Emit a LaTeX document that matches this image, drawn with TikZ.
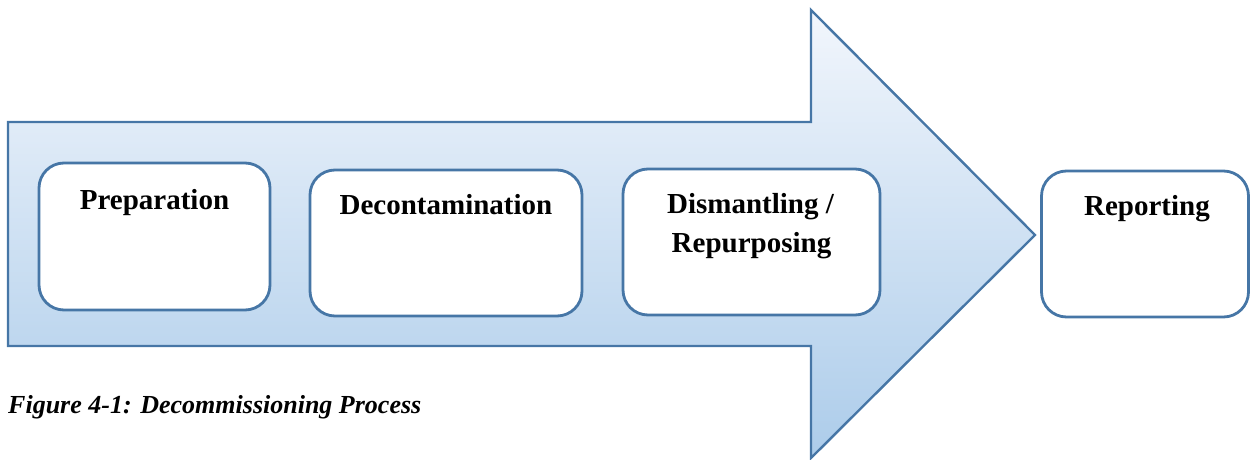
\documentclass[tikz,border=0pt]{standalone}
\usepackage{fontspec}
\setmainfont{Liberation Serif}
\definecolor{edgeblue}{RGB}{70,118,166}
\definecolor{shadetop}{RGB}{242,246,252}
\definecolor{shadebot}{RGB}{172,204,234}
\tikzset{
  stepbox/.style={draw=edgeblue, line width=2.8pt, fill=white, rounded corners=25pt, inner sep=0pt},
  steptext/.style={anchor=base, inner sep=0pt, font=\fontsize{29}{39}\selectfont\bfseries, align=center},
}
\begin{document}
\begin{tikzpicture}[x=1pt, y=-1pt]
\useasboundingbox (0,0) rectangle (1250,460);
% big arrow
\path[draw=edgeblue, line width=2.4pt, line join=miter, top color=shadetop, bottom color=shadebot]
  (8,122) -- (811,122) -- (811,10) -- (1035,235) -- (811,458) -- (811,346) -- (8,346) -- cycle;
% boxes
\node[stepbox, minimum width=231pt, minimum height=147pt] (prep) at (154.5,236.5) {};
\node[stepbox, minimum width=272pt, minimum height=146pt] (deco) at (446,243) {};
\node[stepbox, minimum width=257pt, minimum height=146pt] (dism) at (751.5,242) {};
\node[stepbox, minimum width=207pt, minimum height=146pt] (repo) at (1145,244) {};
% texts
\node[steptext] (tprep) at (154.5,209) {Preparation};
\node[steptext] (tdeco) at (446,214) {Decontamination};
\node[steptext] (tdism) at (750.5,213) {Dismantling /};
\node[steptext] (trep) at (751.5,252) {Repurposing};
\node[steptext] (trepo) at (1147,215) {Reporting};
% caption
\node[anchor=base west, inner sep=0pt, font=\fontsize{26}{30}\selectfont\bfseries\itshape] (cap) at (8,413) {Figure 4-1: Decommissioning Process};
\end{tikzpicture}
\end{document}
